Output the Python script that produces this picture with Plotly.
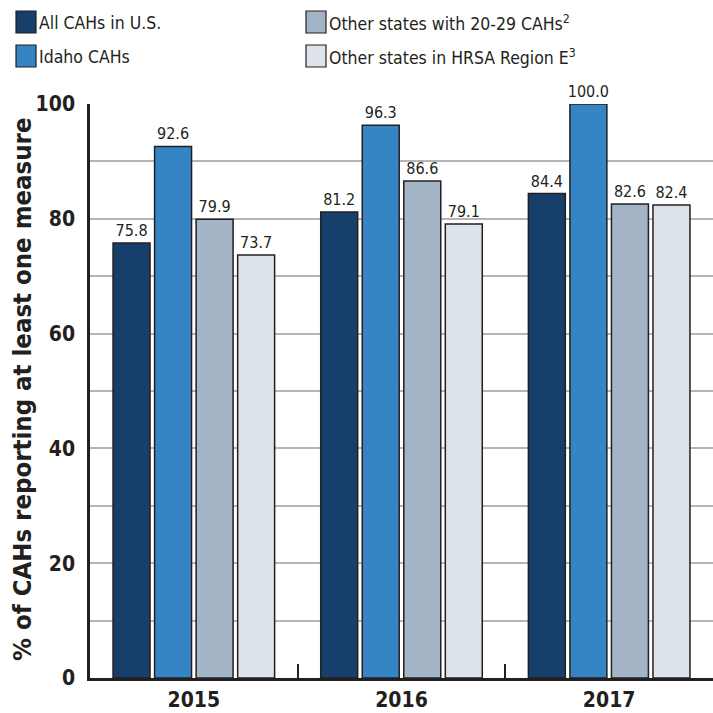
import plotly.graph_objects as go

years = ["2015", "2016", "2017"]
series_names = [
    "All CAHs in U.S.",
    "Idaho CAHs",
    "Other states with 20-29 CAHs<sup>2</sup>",
    "Other states in HRSA Region E<sup>3</sup>",
]
all_us = [75.8, 81.2, 84.4]
idaho = [92.6, 96.3, 100.0]
other_20_29 = [79.9, 86.6, 82.6]
hrsa_e = [73.7, 79.1, 82.4]
y_ticks = [0, 20, 40, 60, 80, 100]
y_title = "% of CAHs reporting at least one measure"

colors = ["#173f6b", "#3585c5", "#a3b4c7", "#dce3eb"]
FONT = "DejaVu Sans Condensed, Liberation Sans Narrow, sans-serif"
TXT = "#231f20"

W, H = 713, 713
ML, MR, MT, MB = 90, 0, 104, 35
PW, PH = W - ML - MR, H - MT - MB


def px2paper(px, py):
    return (px - ML) / PW, (H - MB - py) / PH


fig = go.Figure()
for name, vals, col in zip(series_names, [all_us, idaho, other_20_29, hrsa_e], colors):
    fig.add_trace(go.Bar(
        x=years, y=vals, name=name,
        marker=dict(color=col, line=dict(color="#231f20", width=1.5)),
        texttemplate="%{y:.1f}", textposition="outside", constraintext="none",
        textfont=dict(family=FONT, size=16, color=TXT),
        cliponaxis=False, showlegend=False,
    ))

# manual legend
legend_pos = [(16, 11), (16, 45), (306, 11), (306, 45)]
shapes = []
annotations = []
for (lx, ly), name, col in zip(legend_pos, series_names, colors):
    x0, y1 = px2paper(lx, ly)
    x1, y0 = px2paper(lx + 20, ly + 22)
    shapes.append(dict(type="rect", xref="paper", yref="paper", x0=x0, x1=x1, y0=y0, y1=y1,
                       fillcolor=col, line=dict(color="#231f20", width=1.2)))
    tx, ty = px2paper(lx + 21, ly + 12)
    annotations.append(dict(xref="paper", yref="paper", x=tx, y=ty, text=name, showarrow=False,
                            xanchor="left", yanchor="middle",
                            font=dict(family=FONT, size=17.5, color=TXT)))

tx, ty = px2paper(22, 390)
annotations.append(dict(xref="paper", yref="paper", x=tx, y=ty, text=y_title, showarrow=False,
                        textangle=-90, xanchor="center", yanchor="middle",
                        font=dict(family=FONT, size=25.5, color=TXT, weight="bold")))

fig.update_layout(
    width=W, height=H,
    margin=dict(l=ML, r=MR, t=MT, b=MB),
    paper_bgcolor="white", plot_bgcolor="white",
    barmode="group", bargap=0.2, bargroupgap=0.11,
    shapes=shapes, annotations=annotations,
    font=dict(family=FONT, color=TXT),
)
fig.update_xaxes(
    range=[-0.5, 2.5], showline=True, linecolor="#231f20", linewidth=3,
    ticks="inside", tickson="boundaries", ticklen=14, tickwidth=2, tickcolor="#231f20",
    tickfont=dict(family=FONT, size=21, color=TXT, weight="bold"),
    ticklabelstandoff=1,
    showgrid=False, automargin=False,
)
fig.update_yaxes(
    range=[0, 100], tickvals=y_ticks, showline=True, linecolor="#231f20", linewidth=2.5,
    showgrid=True, gridcolor="#b5b5b5", gridwidth=1.5,
    minor=dict(dtick=10, showgrid=True, gridcolor="#b5b5b5", gridwidth=1.5),
    tickfont=dict(family=FONT, size=21, color=TXT, weight="bold"),
    ticklabelstandoff=8,
    zeroline=False, automargin=False,
)

fig.write_html(
    "out.html",
    config={"displayModeBar": False},
    post_script="document.body.style.margin='0';document.body.style.overflow='hidden';",
)
